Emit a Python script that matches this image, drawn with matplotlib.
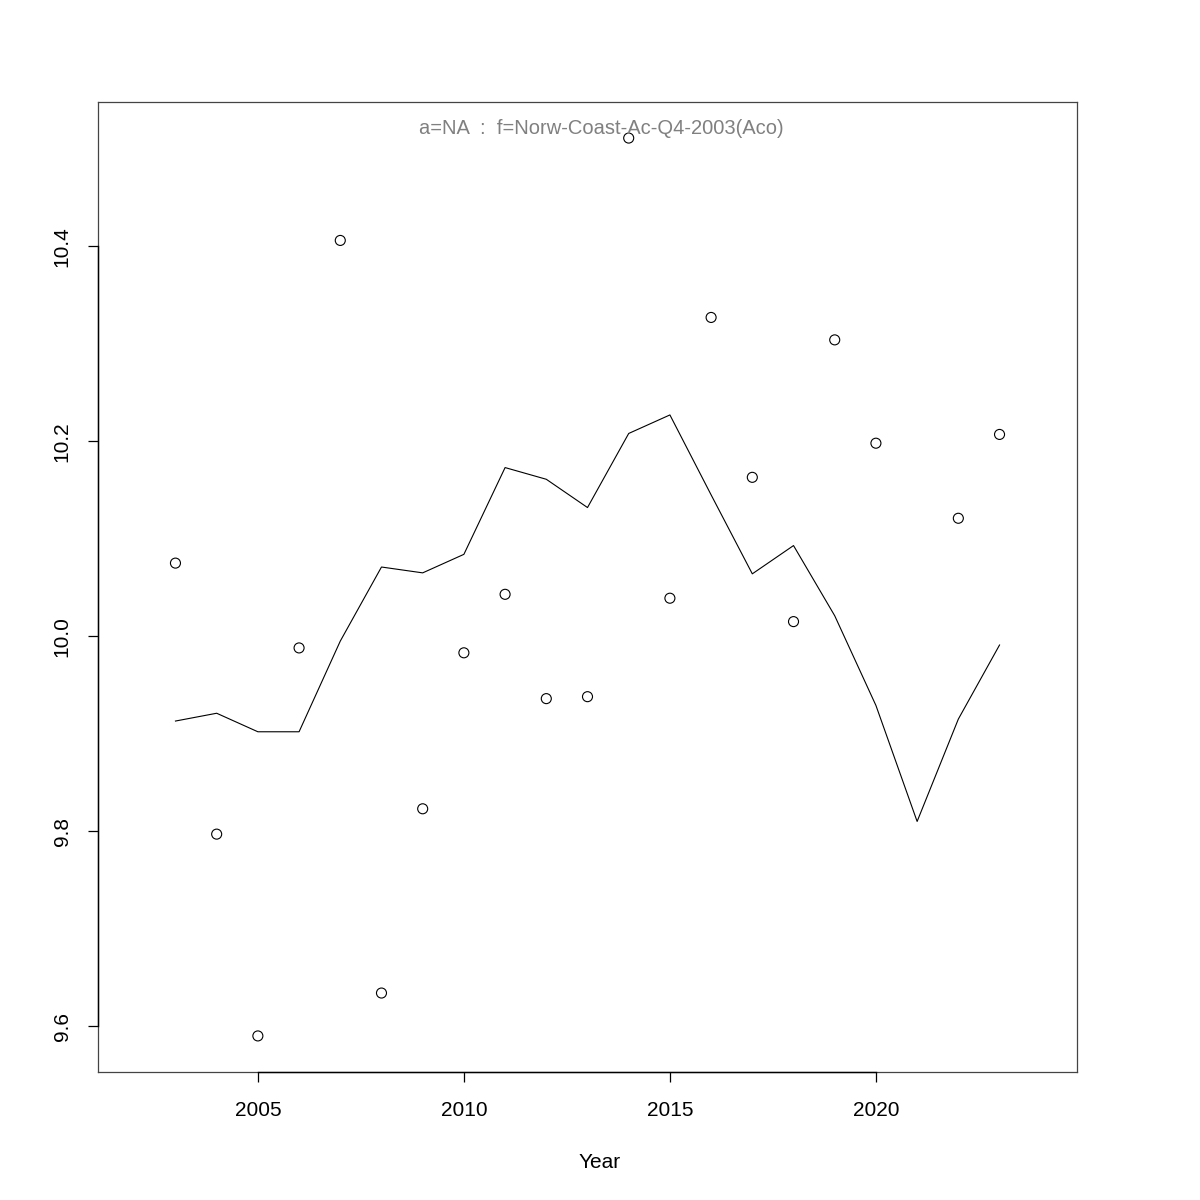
import matplotlib
matplotlib.use("Agg")
import matplotlib.pyplot as plt
import numpy as np

plt.rcParams['font.family'] = ['Liberation Sans', 'DejaVu Sans']

obs_years = [2003, 2004, 2005, 2006, 2007, 2008, 2009, 2010, 2011, 2012,
             2013, 2014, 2015, 2016, 2017, 2018, 2019, 2020, 2022, 2023]
obs_values = [10.075, 9.797, 9.590, 9.988, 10.406, 9.634, 9.823, 9.983, 10.043, 9.936,
              9.938, 10.511, 10.039, 10.327, 10.163, 10.015, 10.304, 10.198, 10.121, 10.207]

fit_years = list(range(2003, 2024))
fit_values = [9.913, 9.921, 9.902, 9.902, 9.995, 10.071, 10.065, 10.084, 10.173, 10.161,
              10.132, 10.208, 10.227, 10.145, 10.064, 10.093, 10.021, 9.929, 9.810, 9.915, 9.991]

x_ticks = [2005, 2010, 2015, 2020]
y_ticks = [9.6, 9.8, 10.0, 10.2, 10.4]
y_tick_labels = ["9.6", "9.8", "10.0", "10.2", "10.4"]
title_text = "a=NA  :  f=Norw-Coast-Ac-Q4-2003(Aco)"
x_label = "Year"

fig = plt.figure(figsize=(12, 12), dpi=100)
ax = fig.add_axes([98/1200, 1 - 1072/1200, (1077-98)/1200, (1072-102)/1200])

ax.plot(fit_years, fit_values, color='black', linewidth=0.8)
ax.scatter(obs_years, obs_values, s=52, facecolors='none', edgecolors='black', linewidths=0.8, zorder=3)

ax.set_xlim(2001.12, 2024.88)
ax.set_ylim(9.553, 10.548)

for s in ax.spines.values():
    s.set_color('#444444')
    s.set_linewidth(0.9)

ax.set_xticks(x_ticks)
ax.set_xticklabels([str(t) for t in x_ticks])
ax.set_yticks(y_ticks)
ax.set_yticklabels(y_tick_labels, rotation=90, va='center')
ax.tick_params(axis='both', direction='out', length=7, width=0.9, labelsize=15, colors='black')
ax.tick_params(axis='x', pad=14)
ax.tick_params(axis='y', pad=12)

# R-style axis lines spanning the ticks
ax.plot([x_ticks[0], x_ticks[-1]], [9.553, 9.553], color='black', linewidth=1.0, clip_on=False, zorder=4)
ax.plot([2001.12, 2001.12], [y_ticks[0], y_ticks[-1]], color='black', linewidth=1.0, clip_on=False, zorder=4)

fig.text(601/1200, 1 - 128/1200, title_text, ha='center', va='center',
         color='#808080', fontsize=14.5)

fig.text(600/1200, 1 - 1162/1200, x_label, ha='center', va='center', fontsize=15)

fig.savefig("out.png", dpi=100)
